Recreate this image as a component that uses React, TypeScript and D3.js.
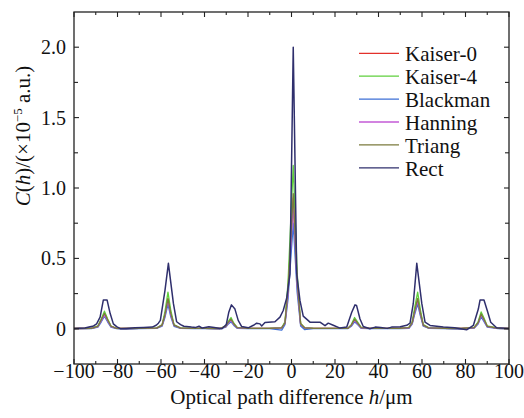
import React from "react";
import * as d3 from "d3";

const seriesNames = ["Kaiser-0", "Kaiser-4", "Blackman", "Hanning", "Triang", "Rect"];
const seriesColors = ["#e3312b", "#5fcf3c", "#3d6fd6", "#c35ad6", "#7b7a3c", "#2f2f6d"];

const xTicks = [-100, -80, -60, -40, -20, 0, 20, 40, 60, 80, 100];
const xMinorTicks = [-90, -70, -50, -30, -10, 10, 30, 50, 70, 90];
const yTicks = [0, 0.5, 1.0, 1.5, 2.0];
const yTickLabels = ["0", "0.5", "1.0", "1.5", "2.0"];
const yMinorTicks = [0.25, 0.75, 1.25, 1.75];

// shared sample positions for the windowed spectra
const windowX = [
  -100, -92, -89, -87.5, -86, -84.5, -83, -80.5, -76, -70,
  -62, -59.5, -58.2, -56.8, -55.5, -54, -51, -45, -40, -33,
  -30.2, -29, -27.8, -26.5, -25, -20, -10, -4.5, -3, -1.6,
  0.8, 2.6, 4.2, 6, 10, 20, 26, 27.5, 29, 30.5,
  32, 36, 45, 50, 54, 55.5, 56.5, 58, 59.2, 60.6,
  63, 70, 78, 84, 85.8, 87.2, 88.4, 90, 95, 100,
];

const kaiser0 = [
  0.002, 0.003, 0.018, 0.06, 0.105, 0.06, 0.018, 0.003, 0.002, 0.003,
  0.005, 0.025, 0.1, 0.21, 0.11, 0.025, 0.005, 0.003, 0.003, 0.002,
  0.018, 0.045, 0.065, 0.033, 0.008, 0.003, 0.003, 0.007, 0.04, 0.27,
  0.93, 0.33, 0.035, 0.007, 0.003, 0.003, 0.004, 0.025, 0.065, 0.037,
  0.008, 0.003, 0.003, 0.004, 0.008, 0.042, 0.115, 0.21, 0.115, 0.025,
  0.007, 0.003, 0.002, 0.008, 0.042, 0.1, 0.067, 0.017, 0.003, 0.002,
];
const kaiser4 = [
  0.002, 0.004, 0.02, 0.07, 0.125, 0.07, 0.02, 0.003, 0.002, 0.003,
  0.006, 0.03, 0.12, 0.26, 0.13, 0.03, 0.006, 0.004, 0.003, 0.002,
  0.02, 0.055, 0.08, 0.04, 0.01, 0.003, 0.004, 0.008, 0.05, 0.33,
  1.16, 0.4, 0.04, 0.008, 0.004, 0.003, 0.005, 0.03, 0.08, 0.045,
  0.01, 0.003, 0.003, 0.005, 0.01, 0.05, 0.14, 0.26, 0.14, 0.03,
  0.008, 0.004, 0.002, 0.01, 0.05, 0.12, 0.08, 0.02, 0.004, 0.002,
];
const blackman = [
  0.001, 0.002, 0.012, 0.048, 0.09, 0.048, 0.012, 0.001, -0.002, 0.001,
  0.003, 0.018, 0.08, 0.175, 0.085, 0.018, 0.003, 0.001, 0.001, 0.0,
  0.012, 0.035, 0.05, 0.024, 0.004, 0.001, 0.001, -0.01, 0.03, 0.21,
  0.75, 0.26, 0.02, -0.005, 0.001, 0.001, 0.002, 0.018, 0.05, 0.028,
  0.004, 0.001, 0.001, 0.002, 0.004, 0.034, 0.095, 0.175, 0.095, 0.018,
  0.004, 0.001, -0.002, 0.005, 0.034, 0.085, 0.055, 0.012, 0.001, 0.001,
];
const hanning = [
  0.002, 0.003, 0.016, 0.056, 0.1, 0.056, 0.016, 0.003, 0.002, 0.003,
  0.005, 0.024, 0.093, 0.2, 0.1, 0.024, 0.005, 0.003, 0.003, 0.002,
  0.016, 0.042, 0.06, 0.03, 0.007, 0.003, 0.003, 0.006, 0.038, 0.25,
  0.88, 0.31, 0.032, 0.006, 0.003, 0.003, 0.004, 0.023, 0.06, 0.034,
  0.007, 0.003, 0.003, 0.004, 0.007, 0.04, 0.11, 0.2, 0.11, 0.024,
  0.006, 0.003, 0.002, 0.007, 0.04, 0.096, 0.064, 0.016, 0.003, 0.002,
];
const triang = [
  0.002, 0.003, 0.018, 0.062, 0.11, 0.062, 0.018, 0.003, 0.002, 0.003,
  0.005, 0.026, 0.1, 0.215, 0.11, 0.026, 0.005, 0.003, 0.003, 0.002,
  0.018, 0.047, 0.068, 0.034, 0.008, 0.003, 0.003, 0.007, 0.042, 0.28,
  0.96, 0.34, 0.035, 0.007, 0.003, 0.003, 0.004, 0.026, 0.068, 0.038,
  0.008, 0.003, 0.003, 0.004, 0.008, 0.043, 0.118, 0.215, 0.118, 0.026,
  0.007, 0.003, 0.002, 0.008, 0.044, 0.105, 0.07, 0.018, 0.003, 0.002,
];

// rectangular window spectrum (own sample positions)
const rectX = [
  -100, -95, -92.6, -91, -89.6, -88, -86.5, -84.8, -83.4, -81.9,
  -80.4, -78.5, -76, -72, -68, -64, -62.2, -61.2, -60.3, -58.2,
  -56.6, -54.3, -52.8, -51, -49.5, -46, -44, -42.5, -41, -38,
  -35.5, -32, -30, -28.8, -27.6, -26, -24.5, -22.9, -19.9, -17.5,
  -16, -14.5, -13.7, -12.2, -7.6, -5.3, -3.8, -2.2, -0.7, 0.8,
  2.4, 3.9, 5.4, 8.5, 13.1, 15.4, 16.9, 19.2, 22.3, 25.4,
  27.7, 29.2, 29.9, 31.5, 33, 36, 38.5, 41, 44, 46,
  50, 53, 54.5, 56, 57.6, 59.9, 61.4, 63.7, 69.8, 75,
  80.5, 83.6, 85.9, 86.7, 88.5, 90, 91.6, 94.3, 100,
];
const rectY = [
  0.003, 0.005, 0.015, 0.02, 0.035, 0.083, 0.205, 0.205, 0.11, 0.035,
  0.015, 0.0, 0.003, 0.008, 0.01, 0.012, 0.025, 0.04, 0.06, 0.27,
  0.465, 0.18, 0.05, 0.03, 0.018, 0.012, 0.01, 0.018, 0.005, 0.015,
  0.01, 0.0, 0.03, 0.12, 0.17, 0.14, 0.06, 0.016, 0.007, 0.025,
  0.04, 0.035, 0.02, 0.045, 0.05, 0.083, 0.13, 0.22, 0.39, 2.0,
  0.39, 0.2, 0.09, 0.047, 0.047, 0.022, 0.04, 0.025, 0.005, 0.012,
  0.118, 0.17, 0.166, 0.07, 0.016, 0.0, 0.012, 0.01, 0.003, 0.012,
  0.015, 0.025, 0.04, 0.18, 0.465, 0.18, 0.047, 0.024, 0.012, 0.008,
  -0.007, 0.024, 0.14, 0.205, 0.205, 0.13, 0.047, 0.007, 0.002,
];

const W = 524;
const H = 418;
const left = 74, right = 509, top = 12, bottom = 364;

export default function App() {
  const x = d3.scaleLinear().domain([-100, 100]).range([left, right]);
  const y = d3.scaleLinear().domain([-0.25, 2.25]).range([bottom, top]);
  const line = d3
    .line<[number, number]>()
    .x((d) => x(d[0]))
    .y((d) => y(d[1]));

  const windowed = [kaiser0, kaiser4, blackman, hanning, triang];
  const paths = windowed.map((vals) =>
    line(windowX.map((xv, i) => [xv, vals[i]] as [number, number]))
  );
  const rectPath = line(rectX.map((xv, i) => [xv, rectY[i]] as [number, number]));

  const axisColor = "#222";
  const legendY0 = 53.3;
  const legendDy = 22.9;

  return (
    <svg width={W} height={H} style={{ position: "absolute", left: 0, top: 0 }}>
      <defs>
        <clipPath id="plotclip">
          <rect x={left} y={top} width={right - left} height={bottom - top} />
        </clipPath>
      </defs>
      <g clipPath="url(#plotclip)">
        {paths.map((p, i) => (
          <path key={i} d={p || ""} fill="none" stroke={seriesColors[i]} strokeWidth={1.3} strokeLinejoin="round" />
        ))}
        <path d={rectPath || ""} fill="none" stroke={seriesColors[5]} strokeWidth={1.5} strokeLinejoin="round" />
      </g>

      <rect x={left} y={top} width={right - left} height={bottom - top} fill="none" stroke={axisColor} strokeWidth={1.3} />

      {xTicks.map((t) => (
        <g key={"xt" + t}>
          <line x1={x(t)} x2={x(t)} y1={bottom} y2={bottom - 5} stroke={axisColor} strokeWidth={1.1} />
          <line x1={x(t)} x2={x(t)} y1={top} y2={top + 5} stroke={axisColor} strokeWidth={1.1} />
          <text x={x(t)} y={378} textAnchor="middle" fontSize={20} fill="#111">
            {t < 0 ? "\u2212" + Math.abs(t) : String(t)}
          </text>
        </g>
      ))}
      {xMinorTicks.map((t) => (
        <g key={"xm" + t}>
          <line x1={x(t)} x2={x(t)} y1={bottom} y2={bottom - 3} stroke={axisColor} strokeWidth={1.1} />
          <line x1={x(t)} x2={x(t)} y1={top} y2={top + 3} stroke={axisColor} strokeWidth={1.1} />
        </g>
      ))}

      {yTicks.map((t, i) => (
        <g key={"yt" + t}>
          <line x1={left} x2={left + 5} y1={y(t)} y2={y(t)} stroke={axisColor} strokeWidth={1.1} />
          <line x1={right} x2={right - 5} y1={y(t)} y2={y(t)} stroke={axisColor} strokeWidth={1.1} />
          <text x={66} y={y(t) + 7} textAnchor="end" fontSize={20} fill="#111">
            {yTickLabels[i]}
          </text>
        </g>
      ))}
      {yMinorTicks.map((t) => (
        <g key={"ym" + t}>
          <line x1={left} x2={left + 4} y1={y(t)} y2={y(t)} stroke={axisColor} strokeWidth={1.1} />
          <line x1={right} x2={right - 4} y1={y(t)} y2={y(t)} stroke={axisColor} strokeWidth={1.1} />
        </g>
      ))}

      <text x={291.5} y={404} textAnchor="middle" fontSize={21} fill="#111">
        Optical path difference <tspan fontStyle="italic">h</tspan>/μm
      </text>

      <text transform="translate(30,136) rotate(-90)" textAnchor="middle" fontSize={21} fill="#111">
        <tspan fontStyle="italic">C</tspan>(<tspan fontStyle="italic">h</tspan>)/(×10
        <tspan fontSize={13} dy={-8}>−5</tspan>
        <tspan dy={8}> a.u.)</tspan>
      </text>

      {seriesNames.map((name, i) => (
        <g key={name}>
          <line
            x1={359}
            x2={399}
            y1={legendY0 + i * legendDy}
            y2={legendY0 + i * legendDy}
            stroke={seriesColors[i]}
            strokeWidth={1.3}
          />
          <text x={405} y={legendY0 + i * legendDy + 8} fontSize={21} fill="#111">
            {name}
          </text>
        </g>
      ))}
    </svg>
  );
}
